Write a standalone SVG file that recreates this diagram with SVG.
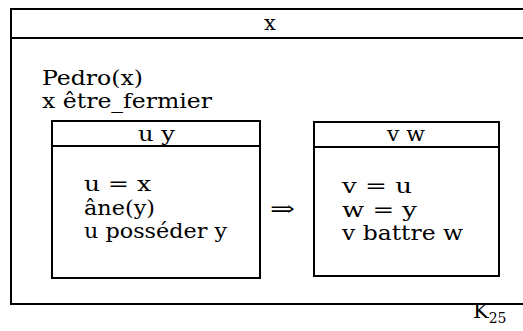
<svg xmlns="http://www.w3.org/2000/svg" width="523" height="331" viewBox="0 0 523 331">
<style>
.box{fill:none;stroke:#000;stroke-width:2}
.t{font-family:"DejaVu Serif","Liberation Serif",serif;font-size:21px;fill:#000}
.c{text-anchor:middle}
</style>
<rect width="523" height="331" fill="#fff"/>
<g id="outer">
<rect class="box" x="11" y="9" width="520" height="295"/>
<line class="box" x1="11" y1="38" x2="531" y2="38"/>
<text class="t c" x="270" y="30">x</text>
<text class="t" x="42" y="85" textLength="101" lengthAdjust="spacingAndGlyphs">Pedro(x)</text>
<text class="t" x="42" y="108" textLength="170" lengthAdjust="spacingAndGlyphs">x être_fermier</text>
<text class="t" x="473" y="318">K<tspan font-size="14" dy="5">25</tspan></text>
</g>
<g id="left">
<rect class="box" x="52" y="121" width="208" height="157"/>
<line class="box" x1="52" y1="146" x2="260" y2="146"/>
<text class="t" x="138" y="141" textLength="37" lengthAdjust="spacingAndGlyphs">u y</text>
<text class="t" x="84" y="191" textLength="67" lengthAdjust="spacingAndGlyphs">u = x</text>
<text class="t" x="84" y="215" textLength="71" lengthAdjust="spacingAndGlyphs">âne(y)</text>
<text class="t" x="84" y="238" textLength="143" lengthAdjust="spacingAndGlyphs">u posséder y</text>
</g>
<g id="connectors">
<text class="t" x="270" y="216" textLength="25" lengthAdjust="spacingAndGlyphs">⇒</text>
</g>
<g id="right">
<rect class="box" x="314" y="122" width="185" height="154"/>
<line class="box" x1="314" y1="147" x2="499" y2="147"/>
<text class="t" x="387" y="141" textLength="38" lengthAdjust="spacingAndGlyphs">v w</text>
<text class="t" x="342" y="193" textLength="70" lengthAdjust="spacingAndGlyphs">v = u</text>
<text class="t" x="342" y="217" textLength="75" lengthAdjust="spacingAndGlyphs">w = y</text>
<text class="t" x="342" y="240" textLength="121" lengthAdjust="spacingAndGlyphs">v battre w</text>
</g>
</svg>
